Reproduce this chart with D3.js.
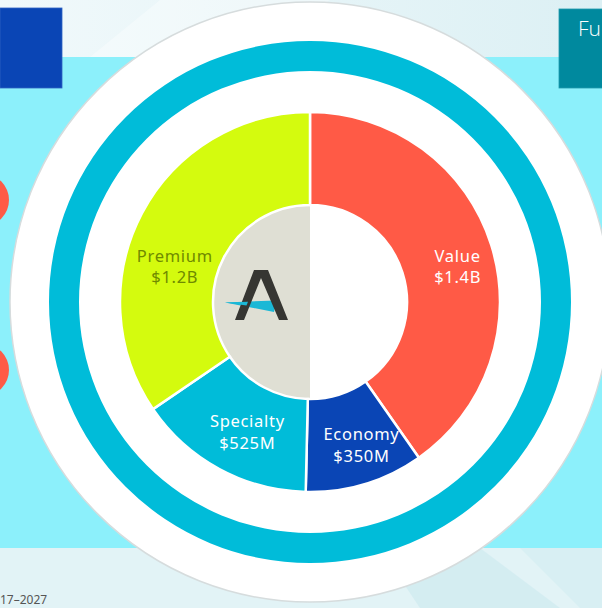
<!DOCTYPE html>
<html>
<head>
<meta charset="utf-8">
<script src="https://cdn.jsdelivr.net/npm/d3@7"></script>
<style>
  html, body { margin: 0; padding: 0; background: #eef8fa; }
  svg { display: block; }
</style>
</head>
<body>
<div id="chart"></div>
<script>
// segment data (clockwise from 12 o'clock)
const segments = ["Value", "Economy", "Specialty", "Premium"];
const amounts = [1400, 350, 525, 1200];          // $M
const amountLabels = ["$1.4B", "$350M", "$525M", "$1.2B"];
const segColors = ["#ff5a46", "#0a45b5", "#00bcd9", "#d4fb0e"];
const textColors = ["#ffffff", "#ffffff", "#ffffff", "#6f8a00"];

// label placement, polar (degrees clockwise from top, radius)
const labelAngles = [74.8, 159.5, 206.6, 286.5];
const labelRadii = [153, 147, 140, 141];

const W = 602, H = 608;
const cx = 310, cy = 302;

const svg = d3.select("#chart").append("svg")
    .attr("width", W)
    .attr("height", H);

// ---- slide background ----
const defs = svg.append("defs");
const topGrad = defs.append("linearGradient").attr("id", "topGrad")
    .attr("x1", "0").attr("y1", "0").attr("x2", "1").attr("y2", "0");
topGrad.append("stop").attr("offset", "0%").attr("stop-color", "#f1f9fb");
topGrad.append("stop").attr("offset", "100%").attr("stop-color", "#dcf0f4");

svg.append("rect").attr("width", W).attr("height", 57).attr("fill", "url(#topGrad)");
svg.append("path")
    .attr("d", "M160,0 L330,0 L240,57 L90,57 Z")
    .attr("fill", "#ffffff").attr("opacity", 0.35);
svg.append("rect").attr("y", 57).attr("width", W).attr("height", 491).attr("fill", "#8cf0fb");
svg.append("rect").attr("y", 548).attr("width", W).attr("height", H - 548).attr("fill", "#e2f3f6");
svg.append("path")
    .attr("d", "M380,548 L480,548 L560,608 L420,608 Z")
    .attr("fill", "#cfeaef").attr("opacity", 0.7);
svg.append("path")
    .attr("d", "M520,548 L602,548 L602,608 L580,608 Z")
    .attr("fill", "#d6eef2").attr("opacity", 0.8);

// side boxes
svg.append("rect").attr("x", 0).attr("y", 8).attr("width", 62).attr("height", 80)
    .attr("fill", "#0a45b5").attr("stroke", "#2f62c4").attr("stroke-width", 0.8);
svg.append("rect").attr("x", 559).attr("y", 9).attr("width", 50).attr("height", 79)
    .attr("fill", "#00899e").attr("stroke", "#1f9aad").attr("stroke-width", 0.8);
svg.append("text")
    .attr("x", 578).attr("y", 36)
    .attr("fill", "#ffffff")
    .style("font-family", "'Open Sans', sans-serif")
    .style("font-weight", 300)
    .style("font-size", "21px")
    .text("Fu");

// bullets at left edge
svg.selectAll(".bullet").data([200, 370]).enter()
    .append("circle")
    .attr("class", "bullet")
    .attr("cx", -17).attr("cy", d => d).attr("r", 26)
    .attr("fill", "#ff5a46");

svg.append("text")
    .attr("x", 0).attr("y", 604)
    .attr("fill", "#555555")
    .style("font-family", "'Noto Sans', sans-serif")
    .style("font-size", "12px")
    .text("17\u20132027");

// ---- chart ----
const g = svg.append("g").attr("transform", `translate(${cx},${cy})`);

g.append("circle").attr("r", 300)
    .attr("fill", "#ffffff").attr("stroke", "#d6dcdd").attr("stroke-width", 1.5);

const ringArc = d3.arc().innerRadius(231).outerRadius(261).startAngle(0).endAngle(2 * Math.PI);
g.append("path").attr("d", ringArc()).attr("fill", "#00bcd9");

// grey left half of the hole (logo plate)
g.append("path")
    .attr("d", d3.arc().innerRadius(0).outerRadius(98).startAngle(Math.PI).endAngle(2 * Math.PI)())
    .attr("fill", "#dfdfd4");

const pie = d3.pie().sort(null).value(d => d)(amounts);
const arc = d3.arc().innerRadius(97).outerRadius(190);

g.selectAll(".slice").data(pie).enter()
    .append("path")
    .attr("class", "slice")
    .attr("d", arc)
    .attr("fill", (d, i) => segColors[i])
    .attr("stroke", "#ffffff")
    .attr("stroke-width", 2.5)
    .attr("stroke-linejoin", "miter");

// labels
const lab = g.selectAll(".lab").data(pie).enter()
    .append("g")
    .attr("class", "lab")
    .attr("transform", (d, i) => {
        const p = d3.pointRadial(labelAngles[i] * Math.PI / 180, labelRadii[i]);
        return `translate(${p[0]},${p[1]})`;
    })
    .attr("text-anchor", "middle")
    .attr("fill", (d, i) => textColors[i])
    .style("font-family", "'Noto Sans', sans-serif")
    .style("font-size", "16.5px")
    .style("letter-spacing", "0.7px");
lab.append("text").attr("y", 0).text((d, i) => segments[i]);
lab.append("text").attr("y", (d, i) => i === 0 || i === 3 ? 21 : 22)
    .text((d, i) => amountLabels[i]);

// logo
const logo = g.append("g").attr("transform", "translate(-48,0)");
logo.append("path")
    .attr("d", "M-37,0.5 L14,-1.5 L12,10 Z")
    .attr("fill", "#1bb8d6");
logo.append("path")
    .attr("d", "M-27,18 L-8,-32 L6,-32 L26,18 L17,18 L-1,-24 L-18,18 Z")
    .attr("fill", "#363632");
logo.append("path")
    .attr("d", "M-37,0.5 L-14,-0.3 L-15.5,3.6 Z")
    .attr("fill", "#1bb8d6");
</script>
</body>
</html>
